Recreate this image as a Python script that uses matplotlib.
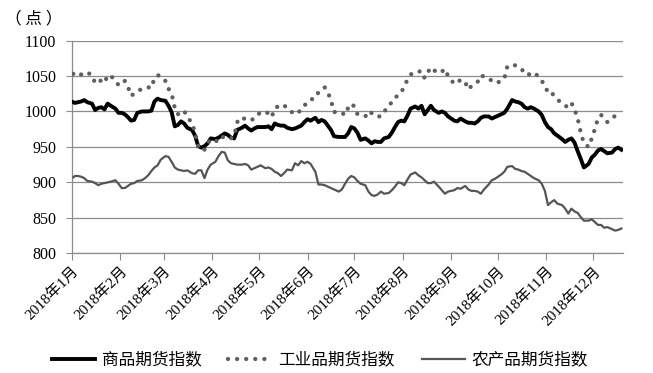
import matplotlib
matplotlib.use("Agg")
import matplotlib.pyplot as plt
import pandas as pd

plt.rcParams['font.family'] = ['Liberation Serif', 'Noto Sans CJK SC', 'DejaVu Sans']

dates = [
    "01-02", "01-03", "01-05", "01-07", "01-09", "01-11", "01-14", "01-16", "01-18", "01-20",
    "01-22", "01-24", "01-26", "01-29", "01-31", "02-02", "02-04", "02-06", "02-08", "02-10",
    "02-12", "02-15", "02-17", "02-19", "02-21", "02-23", "02-25", "02-27", "03-02", "03-04",
    "03-06", "03-08",
    "03-10", "03-12", "03-14", "03-16", "03-19", "03-21", "03-23", "03-25", "03-27", "03-29",
    "03-31", "04-03", "04-05", "04-07", "04-09", "04-11", "04-13", "04-15", "04-17", "04-20",
    "04-22", "04-24", "04-26", "04-28", "04-30", "05-02", "05-05", "05-07", "05-09", "05-11",
    "05-13", "05-15", "05-17",
    "05-19", "05-22", "05-24", "05-26", "05-28", "05-30", "06-01", "06-03", "06-06", "06-08",
    "06-10", "06-12", "06-14", "06-16", "06-18", "06-21", "06-23", "06-25", "06-27", "06-29",
    "07-01", "07-03", "07-05", "07-08", "07-10", "07-12", "07-14", "07-16", "07-18", "07-20",
    "07-23", "07-25", "07-27",
    "07-29", "07-31", "08-02", "08-04", "08-06", "08-09", "08-11", "08-13", "08-15", "08-17",
    "08-19", "08-21", "08-24", "08-26", "08-28", "08-30", "09-01", "09-03", "09-05", "09-07",
    "09-10", "09-12", "09-14", "09-16", "09-18", "09-20", "09-22", "09-25", "09-27", "09-29",
    "10-01", "10-03", "10-05",
    "10-07", "10-10", "10-12", "10-14", "10-16", "10-18", "10-20", "10-22", "10-24", "10-27",
    "10-29", "10-31", "11-02", "11-04", "11-06", "11-08", "11-11", "11-13", "11-15", "11-17",
    "11-19", "11-21", "11-23", "11-25", "11-28", "11-30", "12-02", "12-04", "12-06", "12-08",
    "12-10", "12-13", "12-15", "12-17", "12-19",
]

commodity = [
    1013, 1012, 1013, 1014, 1016, 1013, 1011, 1002, 1005, 1006, 1003, 1011, 1008, 1004, 998, 998,
    996, 992, 987, 988, 998, 1000, 1000, 1000, 1001, 1014, 1018, 1016, 1015, 1008, 999, 979,
    981, 986, 983, 977, 974, 966, 951, 949, 951, 955, 962, 961, 963, 966, 969, 967, 963, 962,
    974, 977, 980, 976, 973, 976, 978, 978, 978, 979, 975, 983, 981, 980, 980,
    977, 975, 976, 978, 980, 985, 989, 987, 991, 985, 988, 986, 980, 974, 965, 964, 964, 964,
    969, 978, 976, 970, 960, 962, 959, 955, 958, 957, 957, 962, 964, 970, 978,
    985, 987, 986, 994, 1004, 1007, 1004, 1008, 996, 1002, 1008, 1002, 998, 1000, 998, 993,
    990, 987, 986, 990, 986, 984, 984, 983, 986, 991, 993, 993, 990, 992, 994, 996, 998,
    1004, 1016, 1014, 1013, 1011, 1006, 1004, 1006, 1004, 1000, 995, 985, 978, 975, 969, 966,
    961, 957, 960, 962, 956, 944, 933, 921, 926, 935, 939, 945, 947, 944, 941, 942, 947, 949, 946,
]

industrial = [
    1053, 1050, 1051, 1052, 1055, 1055, 1051, 1040, 1044, 1043, 1040, 1051, 1050, 1044, 1037, 1038,
    1043, 1035, 1022, 1025, 1028, 1032, 1034, 1034, 1033, 1047, 1051, 1050, 1043, 1032, 1025, 1005,
    996, 1000, 1001, 992, 984, 970, 951, 945, 946, 955, 961, 959, 957, 963, 965, 964, 962, 965,
    985, 992, 989, 990, 988, 990, 996, 998, 1000, 997, 992, 1004, 1007, 1010, 1008,
    1006, 999, 996, 998, 1003, 1009, 1011, 1014, 1025, 1026, 1030, 1034, 1027, 1016, 999, 1000,
    998, 995, 1005, 1011, 1007, 996, 994, 994, 991, 998, 994, 993, 993, 1000, 1006, 1014, 1020,
    1022, 1027, 1035, 1045, 1052, 1056, 1056, 1057, 1047, 1055, 1062, 1058, 1054, 1056, 1060, 1050,
    1044, 1039, 1040, 1045, 1041, 1031, 1036, 1038, 1042, 1051, 1049, 1047, 1043, 1040, 1041, 1043, 1046,
    1064, 1065, 1065, 1063, 1060, 1054, 1051, 1054, 1055, 1049, 1043, 1037, 1026, 1027, 1022, 1017,
    1011, 1008, 1006, 1012, 1003, 990, 970, 955, 950, 962, 975, 990, 995, 991, 985, 990, 994, 996, 997,
]

agri = [
    907, 909, 909, 908, 906, 902, 901, 899, 896, 898, 899, 900, 901, 903, 898, 892,
    892, 895, 898, 899, 902, 903, 906, 910, 916, 921, 924, 932, 937, 936, 929, 921,
    918, 917, 916, 917, 913, 912, 917, 917, 906, 918, 925, 929, 937, 943, 942, 931, 927, 926,
    925, 925, 926, 924, 918, 920, 922, 924, 920, 921, 919, 915, 913, 909, 913,
    918, 917, 927, 924, 930, 927, 929, 926, 915, 897, 897, 896, 894, 892, 890, 887,
    890, 898, 905, 909, 907, 902, 898, 896, 887, 882, 881, 883, 887, 884, 885, 889, 894,
    900, 899, 896, 904, 911, 914, 910, 907, 903, 899, 899, 901, 894, 889, 884, 887,
    888, 889, 892, 891, 895, 890, 888, 888, 887, 884, 890, 897, 903, 905, 908, 911, 915,
    922, 923, 919, 918, 916, 915, 912, 909, 906, 903, 898, 888, 868, 872, 875, 870,
    868, 863, 856, 863, 859, 857, 851, 846, 846, 848, 844, 840, 840, 836, 837, 834, 832, 833, 835,
]

series_names = ["商品期货指数", "工业品期货指数", "农产品期货指数"]
y_ticks = [800, 850, 900, 950, 1000, 1050, 1100]
month_labels = [f"2018年{m}月" for m in range(1, 13)]

x = pd.to_datetime(["2018-" + d for d in dates])

fig = plt.figure(figsize=(6.53, 3.73), dpi=100)
ax = fig.add_axes([0.1098, 0.3209, 0.8442, 0.5705])

grid_c = "#8c8c8c"
ax.plot(x, commodity, color="black", lw=2.8, solid_joinstyle="round", label=series_names[0], zorder=3)
ax.plot(x, industrial, color="#5f5f5f", lw=3.1, linestyle=(0, (0.01, 2.1)),
        dash_capstyle="round", label=series_names[1], zorder=4)
ax.plot(x, agri, color="#555555", lw=1.6, label=series_names[2], zorder=5)

ax.set_ylim(800, 1100)
ax.set_yticks(y_ticks)
ax.set_xlim(pd.Timestamp("2018-01-01"), pd.Timestamp("2018-12-20"))
month_ticks = pd.date_range("2018-01-01", periods=12, freq="MS")
ax.set_xticks(month_ticks)
ax.set_xticklabels(month_labels, rotation=45, ha="right", rotation_mode="anchor",
                   fontsize=11, family=['Liberation Serif', 'Noto Sans CJK SC'])
ax.tick_params(axis="x", length=5, color=grid_c, pad=3)
ax.tick_params(axis="y", length=4, color=grid_c, pad=7, labelsize=11.5)

ax.grid(axis="y", color=grid_c, lw=0.9)
ax.set_axisbelow(True)
for s in ["top", "right"]:
    ax.spines[s].set_visible(False)
for s in ["left", "bottom"]:
    ax.spines[s].set_color(grid_c)
    ax.spines[s].set_linewidth(0.9)

fig.text(0.008, 0.948, "（ 点 ）", fontsize=12, family=['Noto Sans CJK SC'], va="center")

fig.legend(loc="center", bbox_to_anchor=(0.49, 0.035), ncol=3, frameon=False,
           prop={"family": ['Noto Sans CJK SC'], "size": 12},
           handlelength=2.6, handletextpad=0.4, columnspacing=1.6)

fig.savefig("out.png", dpi=100)
